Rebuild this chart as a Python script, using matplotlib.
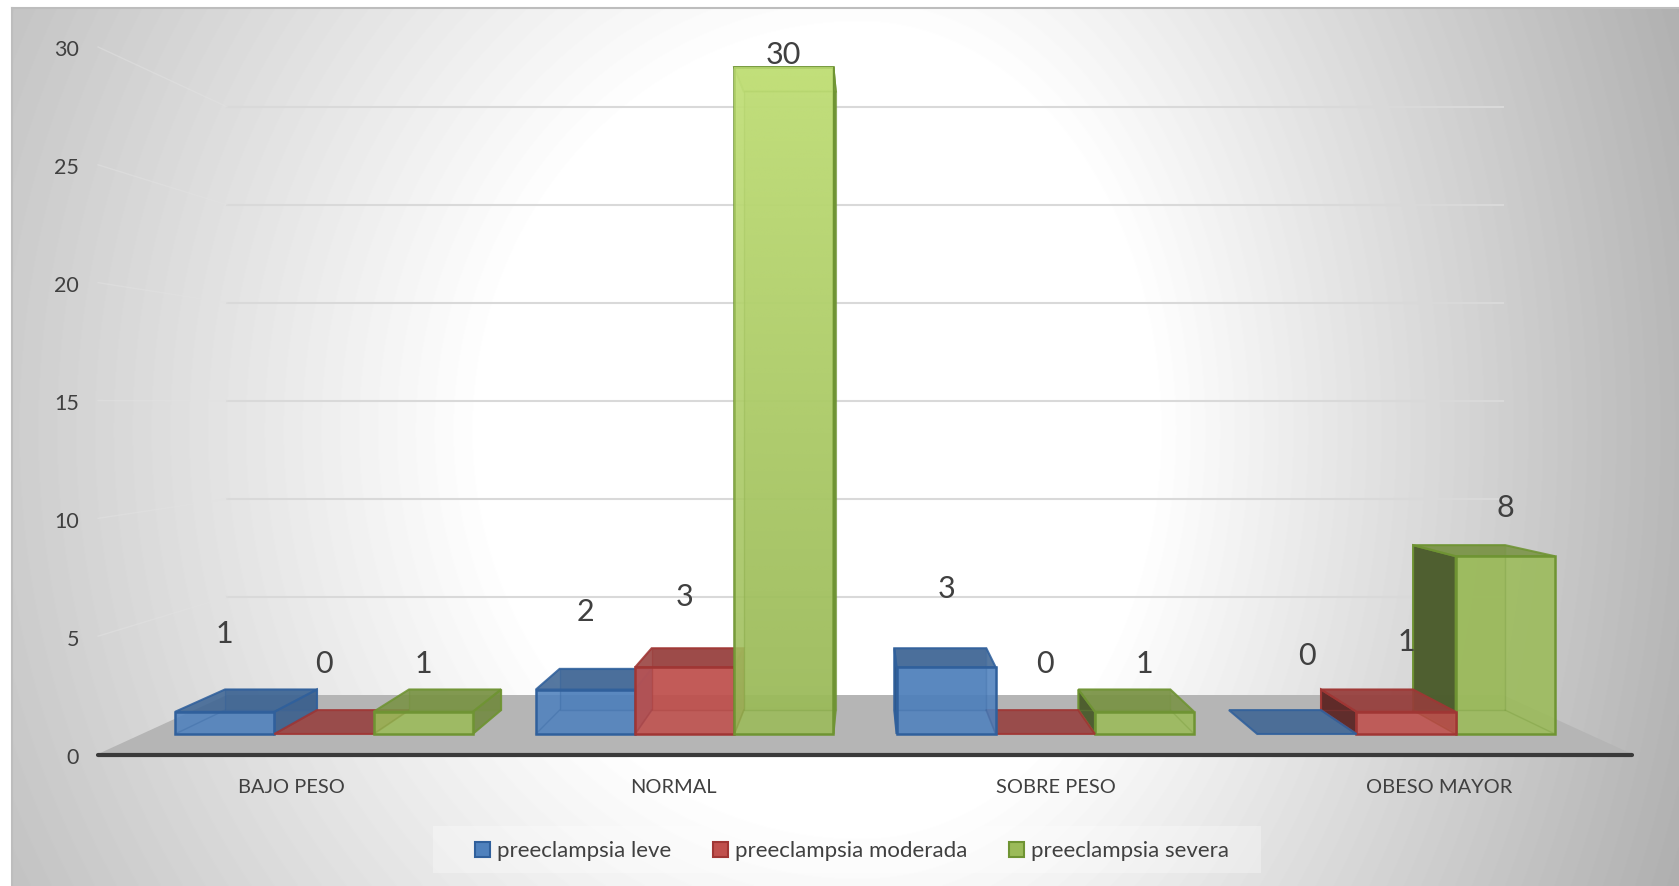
import numpy as np
import matplotlib.pyplot as plt
from matplotlib.patches import Patch, Polygon, Rectangle
from matplotlib.transforms import ScaledTranslation

plt.rcParams['font.family'] = ['Lato', 'DejaVu Sans']

categories = ["BAJO PESO", "NORMAL", "SOBRE PESO", "OBESO MAYOR"]
series_names = ["preeclampsia leve", "preeclampsia moderada", "preeclampsia severa"]
leve = [1, 2, 3, 0]
moderada = [0, 3, 0, 1]
severa = [1, 30, 1, 8]
y_ticks = [0, 5, 10, 15, 20, 25, 30]

colors = ["#4F81BD", "#C0504D", "#9BBB59"]
edges = ["#30609C", "#A03634", "#6F9433"]
text_color = "#404040"

W, H = 1679, 886

# perspective of the 3D box, in data units of the front plane
VX, VY = 2.0, 14.9
S_WALL = 0.832
S_FRONT, S_BACK = 0.943, 0.875
BAR_W = 0.275
BAR_START = 0.0875
LABEL_LIFT = [78, 70, 48]  # px above the bar top, per series


def shade(color, f):
    rgb = np.array(plt.matplotlib.colors.to_rgb(color))
    return tuple(rgb * f)


def proj(x, y, s):
    return (VX + s * (x - VX), VY + s * (y - VY))


fig = plt.figure(figsize=(W / 100, H / 100), dpi=100, facecolor="white")

# background gradient
bg = fig.add_axes([12 / W, 0, 1 - 12 / W, (H - 8) / H], zorder=0)
xx, yy = np.meshgrid(np.arange(12, W), np.arange(8, H))
dx = (xx - 860) / np.where(xx < 860, 900, 700)
dy = (yy - 430) / 950
r = np.sqrt(dx ** 2 + dy ** 2)
gray = 255 - 95 * np.clip(r - 0.42, 0, None)
bg.imshow(gray, cmap="gray", vmin=0, vmax=255, aspect="auto")
bg.set_xticks([])
bg.set_yticks([])
for side in ["right", "bottom"]:
    bg.spines[side].set_visible(False)
for side in ["left", "top"]:
    bg.spines[side].set_color("#BDBDBD")
    bg.spines[side].set_linewidth(1.5)

# main axes: front plane of the box
ax = fig.add_axes([100 / W, (H - 754) / H, 1530 / W, 707 / H], zorder=1)
ax.patch.set_alpha(0)
ax.set_xlim(0, 4)
ax.set_ylim(0, 30)
for side in ax.spines.values():
    side.set_visible(False)

ax.set_xticks([i + 0.5 for i in range(len(categories))])
ax.set_xticklabels(categories)
ax.set_yticks(y_ticks)
ax.tick_params(axis="both", length=0, labelcolor=text_color)
ax.tick_params(axis="x", pad=18, labelsize=14.4)
ax.tick_params(axis="y", pad=15, labelsize=15.5)
for lbl in ax.get_yticklabels():
    lbl.set_transform(lbl.get_transform() + ScaledTranslation(0, -1.5 / 100, fig.dpi_scale_trans))

x_left, x_right = -0.005, 4.005

# wall gridlines
for t in y_ticks[1:]:
    bx0, by = proj(x_left, t, S_WALL)
    bx1, _ = proj(x_right, t, S_WALL)
    fx, fy = proj(x_left, t, 1.0)
    ax.plot([bx0, bx1], [by, by], color="#D9D9D9", lw=1.5, clip_on=False, zorder=2)
    ax.plot([fx, bx0], [fy, by], color="#E2E2E2", lw=1.0, alpha=0.5, clip_on=False, zorder=2)

# floor
floor = [proj(x_left, 0, 1.0), proj(x_right, 0, 1.0),
         proj(x_right, 0, S_WALL), proj(x_left, 0, S_WALL)]
ax.add_patch(Polygon(floor, closed=True, fc="#B5B5B5", ec="none", clip_on=False, zorder=3))
ax.plot([x_left, x_right], [-0.04, -0.04], color="#3A3A3A", lw=3, clip_on=False, zorder=60,
        solid_capstyle="round")

px_per_unit = 707 / 30
all_values = [leve, moderada, severa]


def draw_bar(x0, x1, v, color, edge, z):
    front = [proj(x0, 0, S_FRONT), proj(x1, 0, S_FRONT), proj(x1, v, S_FRONT), proj(x0, v, S_FRONT)]
    back = [proj(x0, 0, S_BACK), proj(x1, 0, S_BACK), proj(x1, v, S_BACK), proj(x0, v, S_BACK)]
    base = dict(closed=True, clip_on=False, zorder=z)

    above_eye = v > VY
    top_col = "#C6DF88" if above_eye else shade(color, 0.78)

    if v > 0:
        ax.add_patch(Polygon(back, fc=shade(color, 0.85), alpha=0.45, ec="none", **base))
        # left side shows to the right of the centre, right side to the left of it
        if front[0][0] > back[0][0]:
            ax.add_patch(Polygon([front[0], back[0], back[3], front[3]],
                                 fc=shade(color, 0.48), ec=edge, lw=1.5, alpha=0.95, **base))
        if front[1][0] < back[1][0]:
            ax.add_patch(Polygon([front[1], back[1], back[2], front[2]],
                                 fc=shade(color, 0.74), ec=edge, lw=1.5, alpha=0.9, **base))
    ax.add_patch(Polygon([front[3], front[2], back[2], back[3]],
                         fc=top_col, ec=edge, lw=1.5, alpha=0.88, **base))
    if v > 0:
        ax.add_patch(Polygon(front, fc=color, alpha=0.88, ec="none", **base))
        # inner edges of the box seen through the glass
        ax.add_patch(Polygon(back, fill=False, ec=edge, lw=1.0, alpha=0.3, **base))
        for k in [0, 1]:
            ax.plot([front[k][0], back[k][0]], [front[k][1], back[k][1]], color=edge, lw=1.0,
                    alpha=0.3, clip_on=False, zorder=z)
        ax.add_patch(Polygon(front, fill=False, ec=edge, lw=1.8, **base))
        # tall bars get lighter towards the top
        if v > 10:
            fade = np.zeros((64, 1, 4))
            fade[..., :3] = plt.matplotlib.colors.to_rgb("#D8F58C")
            fade[:, 0, 3] = np.linspace(0.6, 0, 64)
            (fx0, fy0), (fx1, fy1) = front[0], front[2]
            im = ax.imshow(fade, extent=[fx0, fx1, fy0, fy1], aspect="auto",
                           interpolation="bilinear", zorder=z)
            im.set_clip_path(Polygon(front, closed=True, transform=ax.transData))
            ax.set_xlim(0, 4)
            ax.set_ylim(0, 30)


for i in range(len(categories)):
    order = [0, 1, 2] if i + 0.5 < VX else [2, 1, 0]
    for rank, j in enumerate(order):
        v = all_values[j][i]
        x0 = i + BAR_START + j * BAR_W
        draw_bar(x0, x0 + BAR_W, v, colors[j], edges[j], 10 + i * 5 + rank)

        # data label
        lx, ly = proj(x0 + BAR_W / 2, v, S_FRONT)
        ly = min(ly + LABEL_LIFT[j] / px_per_unit, 29.65)
        ax.text(lx, ly, str(v), ha="center", va="center", fontsize=22,
                color=text_color, clip_on=False, zorder=70)

# legend band and legend
fig.add_artist(Rectangle((433 / W, (H - 873) / H), 828 / W, 47 / H, transform=fig.transFigure,
                         fc="white", alpha=0.3, ec="none", zorder=2))
handles = [Patch(fc=c, ec=e, lw=1.5) for c, e in zip(colors, edges)]
fig.legend(handles, series_names, ncol=3, loc="center", bbox_to_anchor=(852 / W, (H - 851) / H),
           frameon=False, fontsize=16, labelcolor=text_color, handlelength=0.66,
           handleheight=0.66, handletextpad=0.3, columnspacing=1.9)

plt.savefig("out.png", dpi=100)
